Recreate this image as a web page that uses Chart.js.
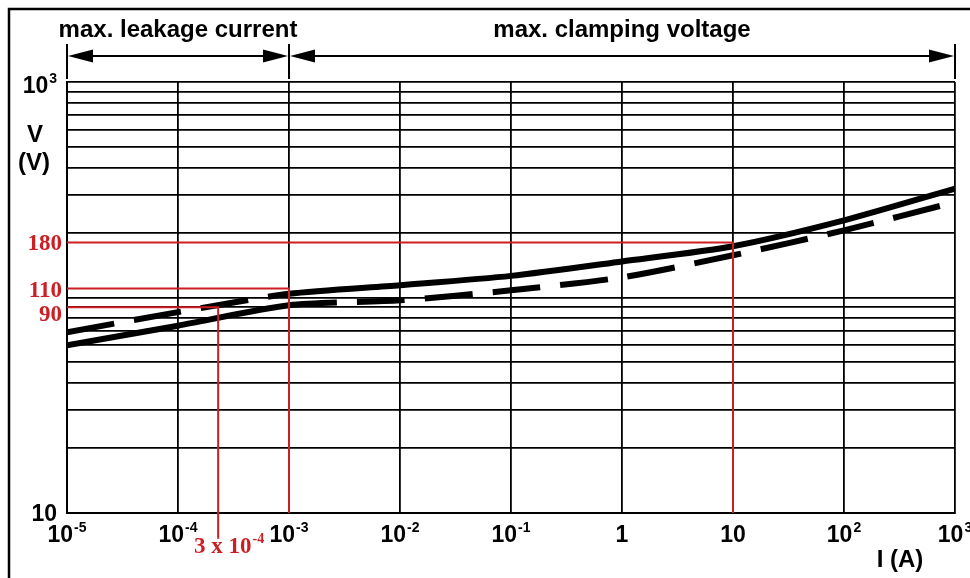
<!DOCTYPE html>
<html>
<head>
<meta charset="utf-8">
<script src="https://cdn.jsdelivr.net/npm/chart.js@4.4.1/dist/chart.umd.min.js"></script>
<style>
  html, body { margin: 0; padding: 0; background: #fff; }
  #wrap { width: 970px; height: 578px; }
</style>
</head>
<body>
<div id="wrap"><canvas id="vChart" width="970" height="578"></canvas></div>
<script>
// axis ticks
const currentTicks = [1e-5, 1e-4, 1e-3, 1e-2, 1e-1, 1, 10, 100, 1000];
const currentLabels = ['10^-5', '10^-4', '10^-3', '10^-2', '10^-1', '1', '10', '10^2', '10^3'];
const voltTicks = [10, 20, 30, 40, 50, 60, 70, 80, 90, 100, 200, 300, 400, 500, 600, 700, 800, 900, 1000];
const voltLabelValues = [10, 1000];
const voltLabels = ['10', '10^3'];

// V/I curves (both share the current points)
const curveCurrent = [1e-5, 1e-4, 1e-3, 1e-2, 1e-1, 1, 10, 100, 1000];
const curveUpperV = [69, 85.5, 104, 114, 126, 147, 173, 228, 320];
const curveLowerV = [60, 74, 92, 97, 108, 124, 157, 205, 277];
const styleSwitchAt = 1e-3;

// red reading marks
const markCurrent = [2.3e-4, 1e-3, 10];
const markVoltage = [90, 110, 180];
const markDropTo = [7.6, 10, 10];
const markLabels = ['90', '110', '180'];
const markCurrentLabel = '3 x 10^-4';

// range sections on top
const sectionEdges = [1e-5, 1e-3, 1e3];
const sectionTitles = ['max. leakage current', 'max. clamping voltage'];

const RED = '#cc1f24';
const SANS = '"Liberation Sans", Arial, sans-serif';
const SERIF = '"Liberation Serif", "Times New Roman", serif';

const toPts = (xs, ys) => xs.map((x, i) => ({ x: x, y: ys[i] }));

const dash = [48, 20];

const datasets = [];
markCurrent.forEach((c, i) => {
    datasets.push({
        data: [{ x: 1e-5, y: markVoltage[i] }, { x: c, y: markVoltage[i] }, { x: c, y: markDropTo[i] }],
        borderColor: RED,
        borderWidth: 2,
        pointRadius: 0,
        tension: 0,
        clip: false,
        order: 0
    });
});
datasets.push({
    data: toPts(curveCurrent, curveUpperV),
    borderColor: '#000',
    borderWidth: 6,
    pointRadius: 0,
    tension: 0.25,
    borderCapStyle: 'butt',
    order: 1,
    segment: { borderDash: ctx => ctx.p0.parsed.x < styleSwitchAt ? dash : [] }
});
datasets.push({
    data: toPts(curveCurrent, curveLowerV),
    borderColor: '#000',
    borderWidth: 6,
    pointRadius: 0,
    tension: 0.25,
    borderCapStyle: 'butt',
    order: 1,
    segment: { borderDash: ctx => ctx.p0.parsed.x >= styleSwitchAt ? dash : [] }
});

// draws "10^-5" style text with a raised exponent
function drawPow(ctx, text, x, baseline, size, family, align) {
    const parts = text.split('^');
    const expSize = Math.round(size * 0.62);
    ctx.font = `bold ${size}px ${family}`;
    const wBase = ctx.measureText(parts[0]).width;
    let wExp = 0;
    if (parts[1]) {
        ctx.font = `bold ${expSize}px ${family}`;
        wExp = ctx.measureText(parts[1]).width + 1;
    }
    const total = wBase + wExp;
    let left = x;
    if (align === 'center') left = x - total / 2;
    if (align === 'right') left = x - total;
    ctx.textAlign = 'left';
    ctx.textBaseline = 'alphabetic';
    ctx.font = `bold ${size}px ${family}`;
    ctx.fillText(parts[0], left, baseline);
    if (parts[1]) {
        ctx.font = `bold ${expSize}px ${family}`;
        ctx.fillText(parts[1], left + wBase + 1, baseline - size * 0.42);
    }
}

function arrowHead(ctx, tipX, y, dir) {
    ctx.beginPath();
    ctx.moveTo(tipX, y);
    ctx.lineTo(tipX - dir * 25, y - 6.5);
    ctx.lineTo(tipX - dir * 25, y + 6.5);
    ctx.closePath();
    ctx.fill();
}

const decorations = {
    id: 'decorations',
    afterDraw(chart) {
        const ctx = chart.ctx;
        const xs = chart.scales.x;
        const ys = chart.scales.y;
        ctx.save();

        // outer frame
        ctx.strokeStyle = '#000';
        ctx.lineWidth = 2.5;
        ctx.beginPath();
        ctx.moveTo(9, 600);
        ctx.lineTo(9, 9);
        ctx.lineTo(975, 9);
        ctx.stroke();

        // section arrows
        ctx.fillStyle = '#000';
        ctx.lineWidth = 2;
        const arrowY = 56;
        sectionEdges.forEach(v => {
            const px = xs.getPixelForValue(v);
            ctx.beginPath();
            ctx.moveTo(px, 44);
            ctx.lineTo(px, 79);
            ctx.stroke();
        });
        for (let i = 0; i < sectionTitles.length; i++) {
            const a = xs.getPixelForValue(sectionEdges[i]);
            const b = xs.getPixelForValue(sectionEdges[i + 1]);
            ctx.beginPath();
            ctx.moveTo(a + 10, arrowY);
            ctx.lineTo(b - 10, arrowY);
            ctx.stroke();
            arrowHead(ctx, a + 1, arrowY, -1);
            arrowHead(ctx, b - 1, arrowY, 1);
            ctx.font = `bold 24px ${SANS}`;
            ctx.textAlign = 'center';
            ctx.textBaseline = 'alphabetic';
            ctx.fillText(sectionTitles[i], (a + b) / 2, 37);
        }

        // x tick labels
        ctx.fillStyle = '#000';
        currentTicks.forEach((v, i) => {
            drawPow(ctx, currentLabels[i], xs.getPixelForValue(v), 542, 23, SANS, 'center');
        });
        // y tick labels
        voltLabelValues.forEach((v, i) => {
            const py = ys.getPixelForValue(v);
            drawPow(ctx, voltLabels[i], 57, v === 1000 ? py + 11 : py + 8, 23, SANS, 'right');
        });
        // axis titles
        ctx.font = `bold 24px ${SANS}`;
        ctx.textAlign = 'center';
        ctx.fillText('V', 35, 142);
        ctx.fillText('(V)', 34, 170);
        ctx.fillText('I (A)', 900, 567);

        // red readings
        ctx.fillStyle = RED;
        markVoltage.forEach((v, i) => {
            const py = ys.getPixelForValue(v) + (i === 0 ? 14 : 8);
            ctx.font = `bold 23px ${SERIF}`;
            ctx.textAlign = 'right';
            ctx.fillText(markLabels[i], 62, py);
        });
        drawPow(ctx, markCurrentLabel, 194, 553, 23, SERIF, 'left');

        ctx.restore();
    }
};

const gridStyle = { color: '#000', lineWidth: 1.8, drawTicks: false };

new Chart(document.getElementById('vChart'), {
    type: 'line',
    data: { datasets: datasets },
    plugins: [decorations],
    options: {
        responsive: false,
        animation: false,
        layout: { padding: { left: 67, right: 15, top: 82, bottom: 65 } },
        plugins: { legend: { display: false }, tooltip: { enabled: false } },
        scales: {
            x: {
                type: 'logarithmic',
                min: 1e-5,
                max: 1e3,
                afterBuildTicks: s => { s.ticks = currentTicks.map(v => ({ value: v })); },
                ticks: { display: false },
                grid: gridStyle,
                border: { color: '#000', width: 2 }
            },
            y: {
                type: 'logarithmic',
                min: 10,
                max: 1000,
                afterBuildTicks: s => { s.ticks = voltTicks.map(v => ({ value: v })); },
                ticks: { display: false },
                grid: gridStyle,
                border: { color: '#000', width: 2 }
            }
        }
    }
});
</script>
</body>
</html>
